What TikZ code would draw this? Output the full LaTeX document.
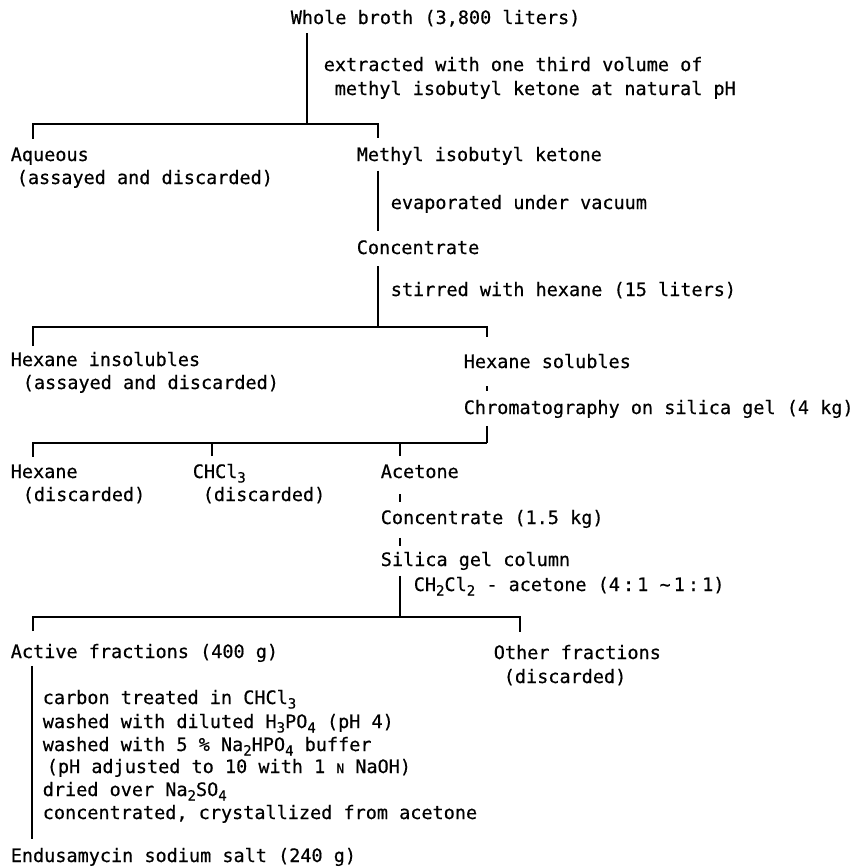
\documentclass[tikz,border=0pt]{standalone}
\usepackage{fontspec}
\newfontfamily\flowfont[FakeBold=0.5]{DejaVu Sans Mono}
\newcommand\chemsub[1]{\raisebox{-4.5pt}{\fontsize{14}{14}\selectfont #1}}
\newcommand\smallN{{\fontsize{13}{13}\selectfont N}}

\begin{document}
\begin{tikzpicture}[x=1pt,y=-1pt,line width=1.6pt,
    every node/.style={anchor=base west,inner sep=0pt,
                       font={\flowfont\fontsize{18.5}{23}\selectfont}}]
\useasboundingbox (0,0) rectangle (859,867);

\path
      (290, 24) node (whole) {Whole broth (3,800 liters)}
      (323, 71) node (exta)  {extracted with one third volume of}
    ++( 11, 24) node (extb)  {methyl isobutyl ketone at natural pH}
      ( 10,161) node (aqa)   {Aqueous}
    ++(  6, 23) node (aqb)   {(assayed and discarded)}
      (356,161) node (mibk)  {Methyl isobutyl ketone}
      (390,209) node (evap)  {evaporated under vacuum}
      (356,254) node (conc)  {Concentrate}
      (390,296) node (stir)  {stirred with hexane (15 liters)};

\path
      ( 10,366) node (insa)  {Hexane insolubles}
    ++( 12, 23) node (insb)  {(assayed and discarded)}
      (463,368) node (sol)   {Hexane solubles}
      (463,414) node (chrom) {Chromatography on silica gel (4 kg)}
      ( 10,478) node (hexa)  {Hexane}
    ++( 12, 23) node (hexb)  {(discarded)}
      (192,478) node (chcla) {CHCl\chemsub{3}}
    ++( 10, 23) node (chclb) {(discarded)}
      (380,478) node (acet)  {Acetone}
      (380,524) node (conc2) {Concentrate (1.5 kg)}
      (380,566) node (col)   {Silica gel column}
      (413,591) node (elu)   {CH\chemsub{2}Cl\chemsub{2} - acetone (4\,:\,1 \textasciitilde\,1\,:\,1)};

\path
      ( 10,658) node (actf)  {Active fractions (400 g)}
      (493,659) node (otha)  {Other fractions}
    ++( 10, 24) node (othb)  {(discarded)}
      ( 42,704) node (wa)    {carbon treated in CHCl\chemsub{3}}
    ++(  0, 24) node (wb)    {washed with diluted H\chemsub{3}PO\chemsub{4} (pH 4)}
    ++(  0, 23) node (wc)    {washed with 5 \% Na\chemsub{2}HPO\chemsub{4} buffer}
    ++(  4, 22) node (wd)    {(pH adjusted to 10 with 1 \smallN\ NaOH)}
    ++( -4, 23) node (we)    {dried over Na\chemsub{2}SO\chemsub{4}}
    ++(  0, 23) node (wf)    {concentrated, crystallized from acetone}
      ( 10,862) node (endu)  {Endusamycin sodium salt (240 g)};

\coordinate (bar1) at (307,124);
\coordinate (bar2) at (378,327);
\coordinate (bar3) at (487,443);
\coordinate (bar4) at (400,617);

% first split
\draw[shorten <=6pt] (whole.south -| bar1) -- (bar1);
\draw[shorten <=8pt,shorten >=8pt]
    ([xshift=23pt]aqa.north west) |- (bar1) -| ([xshift=22pt]mibk.north west);
\draw[shorten <=5pt,shorten >=8pt]
    ([xshift=22pt]mibk.south west) -- ([xshift=22pt]conc.north west);
\draw[shorten <=11pt] ([xshift=22pt]conc.south west) -- (bar2);

% hexane split
\draw[shorten <=5pt,shorten >=16pt]
    ([xshift=23pt]insa.north west) |- (bar2) -| ([xshift=24pt]sol.north west);
\draw[shorten <=17pt,shorten >=8pt]
    ([xshift=24pt]sol.south west) -- ([xshift=24pt]chrom.north west);
\draw[shorten <=7pt] ([xshift=24pt]chrom.south west) -- (bar3);

% column fractions
\draw[shorten <=7pt] ([xshift=23pt]hexa.north west)  |- (bar3);
\draw[shorten <=7pt] ([xshift=20pt]chcla.north west) |- (bar3);
\draw[shorten <=8pt] ([xshift=20pt]acet.north west)  |- (bar3);
\draw[shorten <=15pt,shorten >=7pt]
    ([xshift=20pt]acet.south west) -- ([xshift=20pt]conc2.north west);
\draw[shorten <=9pt,shorten >=5pt]
    ([xshift=20pt]conc2.south west) -- ([xshift=20pt]col.north west);
\draw[shorten <=5pt] ([xshift=20pt]col.south west) -- (bar4);

% last split
\draw[shorten <=12pt,shorten >=12pt]
    ([xshift=23pt]actf.north west) |- (bar4) -| ([xshift=27pt]otha.north west);
\draw[shorten <=3pt,shorten >=8pt]
    ([xshift=22pt]actf.south west) -- ([xshift=22pt]endu.north west);
\end{tikzpicture}
\end{document}
